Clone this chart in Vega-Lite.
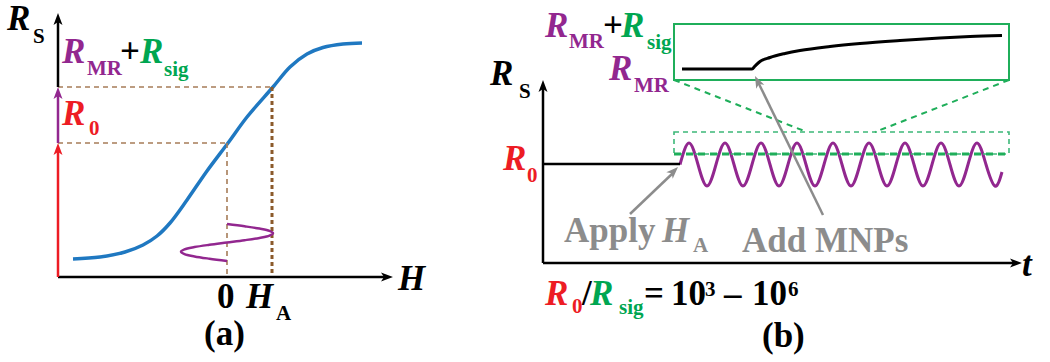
{
  "$schema": "https://vega.github.io/schema/vega-lite/v6.json",
  "width": 1050,
  "height": 362,
  "autosize": {"type": "fit", "contains": "padding"},
  "padding": 0,
  "background": "white",
  "config": {"view": {"stroke": null}},
  "datasets": {
    "insetBox": [{"x": 674, "x2": 1009, "y": 24, "y2": 80}],
    "zoomBox": [{"x": 674, "x2": 1009, "y": 132, "y2": 154}],
    "zoomEdge": [{"x": 674, "x2": 1009, "y": 154, "y2": 154}],
    "connectors": [{"x": 674, "y": 80, "x2": 807, "y2": 132}, {"x": 1009, "y": 80, "x2": 875, "y2": 132}],
    "guides": [{"x": 58, "y": 87, "x2": 272, "y2": 87}, {"x": 58, "y": 143, "x2": 227, "y2": 143}, {"x": 227, "y": 143, "x2": 227, "y2": 277}],
    "guideHA": [{"x": 272, "y": 87, "x2": 272, "y2": 277}],
    "sigmoid": [
      {"x": 73, "y": 259}, {"x": 100, "y": 257}, {"x": 125, "y": 252}, {"x": 143, "y": 245},
      {"x": 157, "y": 236}, {"x": 170, "y": 223}, {"x": 187, "y": 200}, {"x": 207, "y": 171},
      {"x": 228, "y": 143}, {"x": 247, "y": 117}, {"x": 273, "y": 87}, {"x": 290, "y": 67},
      {"x": 307, "y": 54}, {"x": 323, "y": 47.5}, {"x": 343, "y": 44}, {"x": 362, "y": 43}
    ],
    "fieldSine": [
      {"i": 0, "x": 227, "y": 224}, {"i": 1, "x": 244.6, "y": 226.3}, {"i": 2, "x": 259.5, "y": 228.6},
      {"i": 3, "x": 269.5, "y": 230.9}, {"i": 4, "x": 273, "y": 233.2}, {"i": 5, "x": 269.5, "y": 235.6},
      {"i": 6, "x": 259.5, "y": 237.9}, {"i": 7, "x": 244.6, "y": 240.2}, {"i": 8, "x": 227, "y": 242.5},
      {"i": 9, "x": 209.4, "y": 244.8}, {"i": 10, "x": 194.5, "y": 247.1}, {"i": 11, "x": 184.5, "y": 249.4},
      {"i": 12, "x": 181, "y": 251.7}, {"i": 13, "x": 184.5, "y": 254.1}, {"i": 14, "x": 194.5, "y": 256.4},
      {"i": 15, "x": 209.4, "y": 258.7}, {"i": 16, "x": 227, "y": 261}
    ],
    "signal": [
      {"x": 680, "y": 164.5}, {"x": 689, "y": 143}, {"x": 698, "y": 164.5}, {"x": 707, "y": 186},
      {"x": 716, "y": 164.5}, {"x": 725, "y": 143}, {"x": 734, "y": 164.5}, {"x": 743, "y": 186},
      {"x": 752, "y": 164.5}, {"x": 761, "y": 143}, {"x": 770, "y": 164.5}, {"x": 779, "y": 186},
      {"x": 788, "y": 164.5}, {"x": 797, "y": 143}, {"x": 806, "y": 164.5}, {"x": 815, "y": 186},
      {"x": 824, "y": 164.5}, {"x": 833, "y": 143}, {"x": 842, "y": 164.5}, {"x": 851, "y": 186},
      {"x": 860, "y": 164.5}, {"x": 869, "y": 143}, {"x": 878, "y": 164.5}, {"x": 887, "y": 186},
      {"x": 896, "y": 164.5}, {"x": 905, "y": 143}, {"x": 914, "y": 164.5}, {"x": 923, "y": 186},
      {"x": 932, "y": 164.5}, {"x": 941, "y": 143}, {"x": 950, "y": 164.5}, {"x": 959, "y": 186},
      {"x": 968, "y": 164.5}, {"x": 977, "y": 143}, {"x": 986, "y": 164.5}, {"x": 995, "y": 186},
      {"x": 1002, "y": 172}
    ],
    "inset": [
      {"x": 682, "y": 69}, {"x": 752, "y": 69}, {"x": 755, "y": 66}, {"x": 760, "y": 61.5},
      {"x": 770, "y": 57.5}, {"x": 785, "y": 53.5}, {"x": 800, "y": 50.5}, {"x": 830, "y": 46.5},
      {"x": 860, "y": 43.5}, {"x": 900, "y": 40.5}, {"x": 940, "y": 38}, {"x": 970, "y": 36.5},
      {"x": 1002, "y": 35.5}
    ],
    "rules": [
      {"role": "k", "x": 58, "y": 87, "x2": 58, "y2": 20},
      {"role": "k", "x": 58, "y": 277, "x2": 386, "y2": 277},
      {"role": "r0", "x": 58, "y": 277, "x2": 58, "y2": 150},
      {"role": "mr", "x": 58, "y": 143, "x2": 58, "y2": 94},
      {"role": "k", "x": 543, "y": 263, "x2": 543, "y2": 87},
      {"role": "k", "x": 543, "y": 263, "x2": 1015, "y2": 263},
      {"role": "k", "x": 543, "y": 164, "x2": 680, "y2": 164},
      {"role": "note", "x": 630, "y": 214, "x2": 673, "y2": 173},
      {"role": "note", "x": 823, "y": 215, "x2": 758, "y2": 82}
    ],
    "heads": [
      {"role": "k", "x": 58, "y": 13, "dir": 0},
      {"role": "k", "x": 393, "y": 277, "dir": 90},
      {"role": "r0", "x": 58, "y": 143, "dir": 0},
      {"role": "mr", "x": 58, "y": 87, "dir": 0},
      {"role": "k", "x": 543, "y": 80, "dir": 0},
      {"role": "k", "x": 1022, "y": 263, "dir": 90},
      {"role": "note", "x": 678, "y": 167, "dir": 45},
      {"role": "note", "x": 755, "y": 76, "dir": 334}
    ],
    "italicText": [
      {"t": "R", "x": 7, "y": 30, "role": "k", "lvl": "big"},
      {"t": "R", "x": 62, "y": 63, "role": "mr", "lvl": "big"},
      {"t": "R", "x": 140, "y": 63, "role": "sig", "lvl": "big"},
      {"t": "R", "x": 62, "y": 125, "role": "r0", "lvl": "big"},
      {"t": "H", "x": 398, "y": 290, "role": "k", "lvl": "big"},
      {"t": "H", "x": 246, "y": 308, "role": "k", "lvl": "big"},
      {"t": "R", "x": 490, "y": 85, "role": "k", "lvl": "big"},
      {"t": "R", "x": 545, "y": 37, "role": "mr", "lvl": "big"},
      {"t": "R", "x": 621, "y": 37, "role": "sig", "lvl": "big"},
      {"t": "R", "x": 609, "y": 80, "role": "mr", "lvl": "big"},
      {"t": "R", "x": 503, "y": 170, "role": "r0", "lvl": "big"},
      {"t": "H", "x": 662, "y": 242, "role": "note", "lvl": "big"},
      {"t": "t", "x": 1022, "y": 276, "role": "k", "lvl": "big"},
      {"t": "R", "x": 545, "y": 305, "role": "r0", "lvl": "big"},
      {"t": "R", "x": 590, "y": 305, "role": "sig", "lvl": "big"}
    ],
    "uprightText": [
      {"t": "S", "x": 33, "y": 43, "role": "k", "lvl": "sub"},
      {"t": "MR", "x": 87, "y": 75, "role": "mr", "lvl": "sub"},
      {"t": "+", "x": 120, "y": 63, "role": "k", "lvl": "big"},
      {"t": "sig", "x": 164, "y": 76, "role": "sig", "lvl": "sub"},
      {"t": "0", "x": 89, "y": 135, "role": "r0", "lvl": "sub"},
      {"t": "0", "x": 217, "y": 308, "role": "k", "lvl": "big"},
      {"t": "A", "x": 276, "y": 320, "role": "k", "lvl": "sub"},
      {"t": "(a)", "x": 204, "y": 345, "role": "k", "lvl": "big"},
      {"t": "S", "x": 519, "y": 98, "role": "k", "lvl": "sub"},
      {"t": "MR", "x": 569, "y": 48, "role": "mr", "lvl": "sub"},
      {"t": "+", "x": 603, "y": 37, "role": "k", "lvl": "big"},
      {"t": "sig", "x": 647, "y": 49, "role": "sig", "lvl": "sub"},
      {"t": "MR", "x": 634, "y": 92, "role": "mr", "lvl": "sub"},
      {"t": "0", "x": 527, "y": 182, "role": "r0", "lvl": "sub"},
      {"t": "Apply", "x": 564, "y": 242, "role": "note", "lvl": "big"},
      {"t": "A", "x": 693, "y": 252, "role": "note", "lvl": "sub"},
      {"t": "Add MNPs", "x": 742, "y": 252, "role": "note", "lvl": "big"},
      {"t": "0", "x": 572, "y": 313, "role": "r0", "lvl": "sub"},
      {"t": "/", "x": 582, "y": 305, "role": "k", "lvl": "big"},
      {"t": "sig", "x": 619, "y": 314, "role": "sig", "lvl": "sub"},
      {"t": "=", "x": 644, "y": 305, "role": "k", "lvl": "big"},
      {"t": "10", "x": 671, "y": 305, "role": "k", "lvl": "big"},
      {"t": "3", "x": 705, "y": 296, "role": "k", "lvl": "sub"},
      {"t": "–", "x": 724, "y": 305, "role": "k", "lvl": "big"},
      {"t": "10", "x": 752, "y": 305, "role": "k", "lvl": "big"},
      {"t": "6", "x": 788, "y": 296, "role": "k", "lvl": "sub"},
      {"t": "(b)", "x": 762, "y": 347, "role": "k", "lvl": "big"}
    ]
  },
  "layer": [
    {
      "data": {"name": "insetBox"},
      "mark": {"type": "rect", "filled": false, "stroke": "#1fae5a", "strokeWidth": 2},
      "encoding": {
        "x": {"field": "x", "type": "quantitative", "scale": {"domain": [0, 1050], "nice": false, "zero": false}, "axis": null},
        "x2": {"field": "x2"},
        "y": {"field": "y", "type": "quantitative", "scale": {"domain": [0, 362], "nice": false, "zero": false, "reverse": true}, "axis": null},
        "y2": {"field": "y2"}
      }
    },
    {
      "data": {"name": "sigmoid"},
      "mark": {"type": "line", "color": "#1f78c1", "strokeWidth": 3.5, "interpolate": "catmull-rom"},
      "encoding": {
        "x": {"field": "x", "type": "quantitative", "scale": {"domain": [0, 1050], "nice": false, "zero": false}, "axis": null},
        "y": {"field": "y", "type": "quantitative", "scale": {"domain": [0, 362], "nice": false, "zero": false, "reverse": true}, "axis": null}
      }
    },
    {
      "data": {"name": "guides"},
      "mark": {"type": "rule", "color": "#a67c58", "strokeWidth": 1.6, "strokeDash": [5, 4]},
      "encoding": {
        "x": {"field": "x", "type": "quantitative", "scale": {"domain": [0, 1050], "nice": false, "zero": false}, "axis": null},
        "x2": {"field": "x2"},
        "y": {"field": "y", "type": "quantitative", "scale": {"domain": [0, 362], "nice": false, "zero": false, "reverse": true}, "axis": null},
        "y2": {"field": "y2"}
      }
    },
    {
      "data": {"name": "guideHA"},
      "mark": {"type": "rule", "color": "#8b5a2b", "strokeWidth": 3, "strokeDash": [4, 3]},
      "encoding": {
        "x": {"field": "x", "type": "quantitative", "scale": {"domain": [0, 1050], "nice": false, "zero": false}, "axis": null},
        "x2": {"field": "x2"},
        "y": {"field": "y", "type": "quantitative", "scale": {"domain": [0, 362], "nice": false, "zero": false, "reverse": true}, "axis": null},
        "y2": {"field": "y2"}
      }
    },
    {
      "data": {"name": "fieldSine"},
      "mark": {"type": "line", "color": "#92278f", "strokeWidth": 2.5, "interpolate": "catmull-rom"},
      "encoding": {
        "x": {"field": "x", "type": "quantitative", "scale": {"domain": [0, 1050], "nice": false, "zero": false}, "axis": null},
        "y": {"field": "y", "type": "quantitative", "scale": {"domain": [0, 362], "nice": false, "zero": false, "reverse": true}, "axis": null},
        "order": {"field": "i", "type": "quantitative"}
      }
    },
    {
      "data": {"name": "signal"},
      "mark": {"type": "line", "color": "#92278f", "strokeWidth": 3, "interpolate": "natural"},
      "encoding": {
        "x": {"field": "x", "type": "quantitative", "scale": {"domain": [0, 1050], "nice": false, "zero": false}, "axis": null},
        "y": {"field": "y", "type": "quantitative", "scale": {"domain": [0, 362], "nice": false, "zero": false, "reverse": true}, "axis": null}
      }
    },
    {
      "data": {"name": "zoomBox"},
      "mark": {"type": "rect", "filled": false, "stroke": "#3cb878", "strokeWidth": 1.6, "strokeDash": [5, 4]},
      "encoding": {
        "x": {"field": "x", "type": "quantitative", "scale": {"domain": [0, 1050], "nice": false, "zero": false}, "axis": null},
        "x2": {"field": "x2"},
        "y": {"field": "y", "type": "quantitative", "scale": {"domain": [0, 362], "nice": false, "zero": false, "reverse": true}, "axis": null},
        "y2": {"field": "y2"}
      }
    },
    {
      "data": {"name": "zoomEdge"},
      "mark": {"type": "rule", "color": "#1fae5a", "strokeWidth": 3, "strokeDash": [7, 5]},
      "encoding": {
        "x": {"field": "x", "type": "quantitative", "scale": {"domain": [0, 1050], "nice": false, "zero": false}, "axis": null},
        "x2": {"field": "x2"},
        "y": {"field": "y", "type": "quantitative", "scale": {"domain": [0, 362], "nice": false, "zero": false, "reverse": true}, "axis": null},
        "y2": {"field": "y2"}
      }
    },
    {
      "data": {"name": "connectors"},
      "mark": {"type": "rule", "color": "#1fae5a", "strokeWidth": 2, "strokeDash": [6, 5]},
      "encoding": {
        "x": {"field": "x", "type": "quantitative", "scale": {"domain": [0, 1050], "nice": false, "zero": false}, "axis": null},
        "x2": {"field": "x2"},
        "y": {"field": "y", "type": "quantitative", "scale": {"domain": [0, 362], "nice": false, "zero": false, "reverse": true}, "axis": null},
        "y2": {"field": "y2"}
      }
    },
    {
      "data": {"name": "inset"},
      "mark": {"type": "line", "color": "#000000", "strokeWidth": 3, "interpolate": "monotone"},
      "encoding": {
        "x": {"field": "x", "type": "quantitative", "scale": {"domain": [0, 1050], "nice": false, "zero": false}, "axis": null},
        "y": {"field": "y", "type": "quantitative", "scale": {"domain": [0, 362], "nice": false, "zero": false, "reverse": true}, "axis": null}
      }
    },
    {
      "data": {"name": "rules"},
      "mark": {"type": "rule", "strokeWidth": 2.5},
      "encoding": {
        "x": {"field": "x", "type": "quantitative", "scale": {"domain": [0, 1050], "nice": false, "zero": false}, "axis": null},
        "x2": {"field": "x2"},
        "y": {"field": "y", "type": "quantitative", "scale": {"domain": [0, 362], "nice": false, "zero": false, "reverse": true}, "axis": null},
        "y2": {"field": "y2"},
        "color": {"field": "role", "type": "nominal", "legend": null, "scale": {"domain": ["k", "mr", "sig", "r0", "note"], "range": ["#000000", "#92278f", "#00a651", "#ed1c24", "#8c8c8c"]}}
      }
    },
    {
      "data": {"name": "heads"},
      "mark": {"type": "point", "filled": true, "opacity": 1, "size": 144, "shape": "M0,0 L0.75,2 L0,1.5 L-0.75,2 Z"},
      "encoding": {
        "x": {"field": "x", "type": "quantitative", "scale": {"domain": [0, 1050], "nice": false, "zero": false}, "axis": null},
        "y": {"field": "y", "type": "quantitative", "scale": {"domain": [0, 362], "nice": false, "zero": false, "reverse": true}, "axis": null},
        "angle": {"field": "dir", "type": "quantitative", "scale": null},
        "color": {"field": "role", "type": "nominal", "legend": null, "scale": {"domain": ["k", "mr", "sig", "r0", "note"], "range": ["#000000", "#92278f", "#00a651", "#ed1c24", "#8c8c8c"]}}
      }
    },
    {
      "data": {"name": "italicText"},
      "mark": {"type": "text", "font": "Liberation Serif", "fontWeight": "bold", "fontStyle": "italic", "align": "left", "baseline": "alphabetic"},
      "encoding": {
        "x": {"field": "x", "type": "quantitative", "scale": {"domain": [0, 1050], "nice": false, "zero": false}, "axis": null},
        "y": {"field": "y", "type": "quantitative", "scale": {"domain": [0, 362], "nice": false, "zero": false, "reverse": true}, "axis": null},
        "text": {"field": "t"},
        "color": {"field": "role", "type": "nominal", "legend": null, "scale": {"domain": ["k", "mr", "sig", "r0", "note"], "range": ["#000000", "#92278f", "#00a651", "#ed1c24", "#8c8c8c"]}},
        "size": {"field": "lvl", "type": "ordinal", "legend": null, "scale": {"domain": ["big", "sub"], "range": [35, 21]}}
      }
    },
    {
      "data": {"name": "uprightText"},
      "mark": {"type": "text", "font": "Liberation Serif", "fontWeight": "bold", "align": "left", "baseline": "alphabetic"},
      "encoding": {
        "x": {"field": "x", "type": "quantitative", "scale": {"domain": [0, 1050], "nice": false, "zero": false}, "axis": null},
        "y": {"field": "y", "type": "quantitative", "scale": {"domain": [0, 362], "nice": false, "zero": false, "reverse": true}, "axis": null},
        "text": {"field": "t"},
        "color": {"field": "role", "type": "nominal", "legend": null, "scale": {"domain": ["k", "mr", "sig", "r0", "note"], "range": ["#000000", "#92278f", "#00a651", "#ed1c24", "#8c8c8c"]}},
        "size": {"field": "lvl", "type": "ordinal", "legend": null, "scale": {"domain": ["big", "sub"], "range": [35, 21]}}
      }
    }
  ]
}
